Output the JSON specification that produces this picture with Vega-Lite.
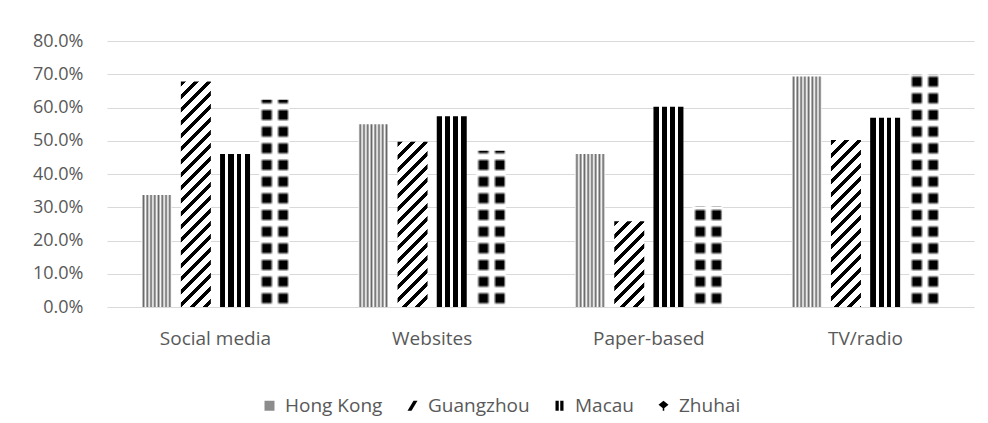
{
  "$schema": "https://vega.github.io/schema/vega-lite/v6.json",
  "width": 867,
  "height": 266,
  "autosize": {"type": "none"},
  "padding": {"left": 107, "top": 41, "right": 14, "bottom": 116},
  "background": "white",
  "config": {"view": {"stroke": null}, "font": "Open Sans"},
  "params": [
    {"name": "gzStops", "value": [
      {"offset":0,"color":"#000"},{"offset":0.0183,"color":"#000"},{"offset":0.0183,"color":"#fff"},{"offset":0.0476,"color":"#fff"},
      {"offset":0.0476,"color":"#000"},{"offset":0.0659,"color":"#000"},{"offset":0.0659,"color":"#fff"},{"offset":0.0952,"color":"#fff"},
      {"offset":0.0952,"color":"#000"},{"offset":0.1136,"color":"#000"},{"offset":0.1136,"color":"#fff"},{"offset":0.1429,"color":"#fff"},
      {"offset":0.1429,"color":"#000"},{"offset":0.1612,"color":"#000"},{"offset":0.1612,"color":"#fff"},{"offset":0.1905,"color":"#fff"},
      {"offset":0.1905,"color":"#000"},{"offset":0.2088,"color":"#000"},{"offset":0.2088,"color":"#fff"},{"offset":0.2381,"color":"#fff"},
      {"offset":0.2381,"color":"#000"},{"offset":0.2564,"color":"#000"},{"offset":0.2564,"color":"#fff"},{"offset":0.2857,"color":"#fff"},
      {"offset":0.2857,"color":"#000"},{"offset":0.3040,"color":"#000"},{"offset":0.3040,"color":"#fff"},{"offset":0.3333,"color":"#fff"},
      {"offset":0.3333,"color":"#000"},{"offset":0.3516,"color":"#000"},{"offset":0.3516,"color":"#fff"},{"offset":0.3810,"color":"#fff"},
      {"offset":0.3810,"color":"#000"},{"offset":0.3993,"color":"#000"},{"offset":0.3993,"color":"#fff"},{"offset":0.4286,"color":"#fff"},
      {"offset":0.4286,"color":"#000"},{"offset":0.4469,"color":"#000"},{"offset":0.4469,"color":"#fff"},{"offset":0.4762,"color":"#fff"},
      {"offset":0.4762,"color":"#000"},{"offset":0.4945,"color":"#000"},{"offset":0.4945,"color":"#fff"},{"offset":0.5238,"color":"#fff"},
      {"offset":0.5238,"color":"#000"},{"offset":0.5421,"color":"#000"},{"offset":0.5421,"color":"#fff"},{"offset":0.5714,"color":"#fff"},
      {"offset":0.5714,"color":"#000"},{"offset":0.5897,"color":"#000"},{"offset":0.5897,"color":"#fff"},{"offset":0.6190,"color":"#fff"},
      {"offset":0.6190,"color":"#000"},{"offset":0.6374,"color":"#000"},{"offset":0.6374,"color":"#fff"},{"offset":0.6667,"color":"#fff"},
      {"offset":0.6667,"color":"#000"},{"offset":0.6850,"color":"#000"},{"offset":0.6850,"color":"#fff"},{"offset":0.7143,"color":"#fff"},
      {"offset":0.7143,"color":"#000"},{"offset":0.7326,"color":"#000"},{"offset":0.7326,"color":"#fff"},{"offset":0.7619,"color":"#fff"},
      {"offset":0.7619,"color":"#000"},{"offset":0.7802,"color":"#000"},{"offset":0.7802,"color":"#fff"},{"offset":0.8095,"color":"#fff"},
      {"offset":0.8095,"color":"#000"},{"offset":0.8278,"color":"#000"},{"offset":0.8278,"color":"#fff"},{"offset":0.8571,"color":"#fff"},
      {"offset":0.8571,"color":"#000"},{"offset":0.8755,"color":"#000"},{"offset":0.8755,"color":"#fff"},{"offset":0.9048,"color":"#fff"},
      {"offset":0.9048,"color":"#000"},{"offset":0.9231,"color":"#000"},{"offset":0.9231,"color":"#fff"},{"offset":0.9524,"color":"#fff"},
      {"offset":0.9524,"color":"#000"},{"offset":0.9707,"color":"#000"},{"offset":0.9707,"color":"#fff"},{"offset":1,"color":"#fff"}
    ]},
    {"name": "zhRows", "value": [
      {"offset":0,"color":"#fff"},
      {"offset":0.0088,"color":"#fff"},{"offset":0.0208,"color":"rgba(255,255,255,0)"},{"offset":0.0488,"color":"rgba(255,255,255,0)"},{"offset":0.0608,"color":"#fff"},
      {"offset":0.0755,"color":"#fff"},{"offset":0.0875,"color":"rgba(255,255,255,0)"},{"offset":0.1155,"color":"rgba(255,255,255,0)"},{"offset":0.1275,"color":"#fff"},
      {"offset":0.1421,"color":"#fff"},{"offset":0.1541,"color":"rgba(255,255,255,0)"},{"offset":0.1821,"color":"rgba(255,255,255,0)"},{"offset":0.1941,"color":"#fff"},
      {"offset":0.2088,"color":"#fff"},{"offset":0.2208,"color":"rgba(255,255,255,0)"},{"offset":0.2488,"color":"rgba(255,255,255,0)"},{"offset":0.2608,"color":"#fff"},
      {"offset":0.2755,"color":"#fff"},{"offset":0.2875,"color":"rgba(255,255,255,0)"},{"offset":0.3155,"color":"rgba(255,255,255,0)"},{"offset":0.3275,"color":"#fff"},
      {"offset":0.3421,"color":"#fff"},{"offset":0.3541,"color":"rgba(255,255,255,0)"},{"offset":0.3821,"color":"rgba(255,255,255,0)"},{"offset":0.3941,"color":"#fff"},
      {"offset":0.4088,"color":"#fff"},{"offset":0.4208,"color":"rgba(255,255,255,0)"},{"offset":0.4488,"color":"rgba(255,255,255,0)"},{"offset":0.4608,"color":"#fff"},
      {"offset":0.4755,"color":"#fff"},{"offset":0.4875,"color":"rgba(255,255,255,0)"},{"offset":0.5155,"color":"rgba(255,255,255,0)"},{"offset":0.5275,"color":"#fff"},
      {"offset":0.5421,"color":"#fff"},{"offset":0.5541,"color":"rgba(255,255,255,0)"},{"offset":0.5821,"color":"rgba(255,255,255,0)"},{"offset":0.5941,"color":"#fff"},
      {"offset":0.6088,"color":"#fff"},{"offset":0.6208,"color":"rgba(255,255,255,0)"},{"offset":0.6488,"color":"rgba(255,255,255,0)"},{"offset":0.6608,"color":"#fff"},
      {"offset":0.6755,"color":"#fff"},{"offset":0.6875,"color":"rgba(255,255,255,0)"},{"offset":0.7155,"color":"rgba(255,255,255,0)"},{"offset":0.7275,"color":"#fff"},
      {"offset":0.7421,"color":"#fff"},{"offset":0.7541,"color":"rgba(255,255,255,0)"},{"offset":0.7821,"color":"rgba(255,255,255,0)"},{"offset":0.7941,"color":"#fff"},
      {"offset":0.8088,"color":"#fff"},{"offset":0.8208,"color":"rgba(255,255,255,0)"},{"offset":0.8488,"color":"rgba(255,255,255,0)"},{"offset":0.8608,"color":"#fff"},
      {"offset":0.8755,"color":"#fff"},{"offset":0.8875,"color":"rgba(255,255,255,0)"},{"offset":0.9155,"color":"rgba(255,255,255,0)"},{"offset":0.9275,"color":"#fff"},
      {"offset":0.9421,"color":"#fff"},{"offset":0.9541,"color":"rgba(255,255,255,0)"},{"offset":0.9821,"color":"rgba(255,255,255,0)"},{"offset":0.9941,"color":"#fff"},
      {"offset":1,"color":"#fff"}
    ]}
  ],
  "data": {"values": [
    {"channel": "Social media", "city": "Hong Kong", "value": 0.337},
    {"channel": "Social media", "city": "Guangzhou", "value": 0.678},
    {"channel": "Social media", "city": "Macau", "value": 0.46},
    {"channel": "Social media", "city": "Zhuhai", "value": 0.623},
    {"channel": "Websites", "city": "Hong Kong", "value": 0.55},
    {"channel": "Websites", "city": "Guangzhou", "value": 0.497},
    {"channel": "Websites", "city": "Macau", "value": 0.574},
    {"channel": "Websites", "city": "Zhuhai", "value": 0.47},
    {"channel": "Paper-based", "city": "Hong Kong", "value": 0.46},
    {"channel": "Paper-based", "city": "Guangzhou", "value": 0.258},
    {"channel": "Paper-based", "city": "Macau", "value": 0.602},
    {"channel": "Paper-based", "city": "Zhuhai", "value": 0.302},
    {"channel": "TV/radio", "city": "Hong Kong", "value": 0.693},
    {"channel": "TV/radio", "city": "Guangzhou", "value": 0.502},
    {"channel": "TV/radio", "city": "Macau", "value": 0.569},
    {"channel": "TV/radio", "city": "Zhuhai", "value": 0.70}
  ]},
  "encoding": {
    "x": {"field": "channel", "type": "nominal",
      "scale": {"domain": ["Social media", "Websites", "Paper-based", "TV/radio"], "paddingInner": 0.319, "paddingOuter": 0.16},
      "axis": {"title": null, "labelAngle": 0, "labelFontSize": 19, "labelColor": "#595959", "domain": false, "ticks": false, "labelPadding": 22}},
    "xOffset": {"field": "city", "type": "nominal",
      "scale": {"domain": ["Hong Kong", "Guangzhou", "Macau", "Zhuhai"], "paddingInner": 0.235, "paddingOuter": 0}},
    "y": {"field": "value", "type": "quantitative", "stack": null,
      "scale": {"domain": [0, 0.8]},
      "axis": {"title": null, "format": ".1%", "values": [0, 0.1, 0.2, 0.3, 0.4, 0.5, 0.6, 0.7, 0.8], "grid": true, "gridColor": "#d9d9d9", "gridWidth": 1, "domain": false, "ticks": false, "labelPadding": 24, "labelFontSize": 18, "labelColor": "#595959"}}
  },
  "layer": [
    {
      "transform": [{"filter": "datum.city === 'Hong Kong'"}],
      "mark": {"type": "bar", "fill": {"gradient": "linear", "x1": 0, "y1": 0, "x2": 1, "y2": 0, "stops": [
        {"offset":0,"color":"#fff"},{"offset":0.0625,"color":"#666"},{"offset":0.125,"color":"#fff"},{"offset":0.1875,"color":"#666"},
        {"offset":0.25,"color":"#fff"},{"offset":0.3125,"color":"#666"},{"offset":0.375,"color":"#fff"},{"offset":0.4375,"color":"#666"},
        {"offset":0.5,"color":"#fff"},{"offset":0.5625,"color":"#666"},{"offset":0.625,"color":"#fff"},{"offset":0.6875,"color":"#666"},
        {"offset":0.75,"color":"#fff"},{"offset":0.8125,"color":"#666"},{"offset":0.875,"color":"#fff"},{"offset":0.9375,"color":"#666"},
        {"offset":1,"color":"#fff"}]}}
    },
    {
      "transform": [{"filter": "datum.city === 'Guangzhou'"}],
      "mark": {"type": "bar", "fill": {"expr": "{gradient:'linear',x1:0,y1:0,x2:273*bandwidth('xOffset')/(pow(bandwidth('xOffset'),2)+pow(scale('y',0)-scale('y',datum.value),2)),y2:273*(scale('y',0)-scale('y',datum.value))/(pow(bandwidth('xOffset'),2)+pow(scale('y',0)-scale('y',datum.value),2)),stops:gzStops}"}}
    },
    {
      "transform": [{"filter": "datum.city === 'Macau'"}],
      "mark": {"type": "bar", "fill": {"gradient": "linear", "x1": 0, "y1": 0, "x2": 1, "y2": 0, "stops": [
        {"offset":0,"color":"#000"},{"offset":0.18,"color":"#000"},{"offset":0.18,"color":"#fff"},{"offset":0.28,"color":"#fff"},
        {"offset":0.28,"color":"#000"},{"offset":0.45,"color":"#000"},{"offset":0.45,"color":"#fff"},{"offset":0.55,"color":"#fff"},
        {"offset":0.55,"color":"#000"},{"offset":0.71,"color":"#000"},{"offset":0.71,"color":"#fff"},{"offset":0.82,"color":"#fff"},
        {"offset":0.82,"color":"#000"},{"offset":1,"color":"#000"}]}}
    },
    {
      "transform": [{"filter": "datum.city === 'Zhuhai'"}],
      "mark": {"type": "bar", "fill": {"gradient": "linear", "x1": 0, "y1": 0, "x2": 1, "y2": 0, "stops": [
        {"offset":0,"color":"#fff"},{"offset":0.033,"color":"#fff"},{"offset":0.133,"color":"#000"},{"offset":0.367,"color":"#000"},
        {"offset":0.467,"color":"#fff"},{"offset":0.583,"color":"#fff"},{"offset":0.683,"color":"#000"},{"offset":0.917,"color":"#000"},
        {"offset":1,"color":"#fff"}]}}
    },
    {
      "transform": [{"filter": "datum.city === 'Zhuhai'"}],
      "mark": {"type": "bar", "fill": {"expr": "{gradient:'linear',x1:0,y1:1,x2:0,y2:1-250/(scale('y',0)-scale('y',datum.value)),stops:zhRows}"}}
    },
    {
      "mark": {"type": "point", "filled": true, "opacity": 0},
      "encoding": {
        "color": {"field": "city", "type": "nominal",
          "scale": {"domain": ["Hong Kong", "Guangzhou", "Macau", "Zhuhai"], "range": ["#8c8c8c", "#000000", "#000000", "#000000"]},
          "legend": {"title": null, "orient": "none", "legendX": 153, "legendY": 355, "direction": "horizontal", "labelFontSize": 19, "labelColor": "#595959", "symbolSize": 100, "labelOffset": 6, "columnPadding": 20, "padding": 0, "symbolStrokeWidth": 0, "symbolOpacity": 1}},
        "shape": {"field": "city", "type": "nominal",
          "scale": {"domain": ["Hong Kong", "Guangzhou", "Macau", "Zhuhai"], "range": ["square", "M-1,1L0.2,-1L1,-1L-0.2,1Z", "M-0.8,-1H-0.15V1H-0.8Z M0.15,-1H0.8V1H0.15Z", "M0,-1L1,-0.2L0,0.6L-1,-0.2Z M-0.15,0.3H0.15V1H-0.15Z"]},
          "legend": {"title": null, "orient": "none", "legendX": 153, "legendY": 355, "direction": "horizontal", "labelFontSize": 19, "labelColor": "#595959", "symbolSize": 100, "labelOffset": 6, "columnPadding": 20, "padding": 0, "symbolStrokeWidth": 0, "symbolOpacity": 1}}
      }
    }
  ]
}
